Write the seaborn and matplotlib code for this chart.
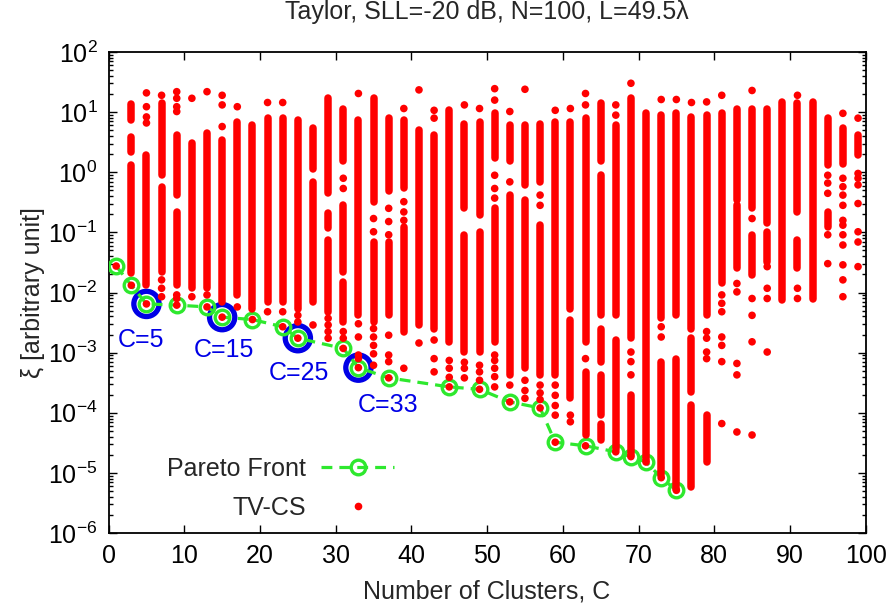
import numpy as np
import pandas as pd
import matplotlib
matplotlib.use("Agg")
import matplotlib.pyplot as plt
import seaborn as sns
from matplotlib.ticker import LogLocator, LogFormatterMathtext, MultipleLocator, NullFormatter
from matplotlib.lines import Line2D

# ---------------- data (exponents are log10 of xi) ----------------
title = "Taylor, SLL=-20 dB, N=100, L=49.5λ"
x_label = "Number of Clusters, C"
y_label = "ξ [arbitrary unit]"

pareto_c = [1, 3, 5, 9, 13, 15, 19, 23, 25, 31, 33, 37, 45, 49, 53, 57, 59, 63, 67, 69, 71, 73, 75]
pareto_exp = [-1.56, -1.88, -2.19, -2.21, -2.24, -2.41, -2.45, -2.57, -2.76, -2.93, -3.25, -3.42,
              -3.57, -3.61, -3.82, -3.92, -4.49, -4.55, -4.65, -4.73, -4.82, -5.08, -5.29]
highlight_c = [5, 15, 25, 33]

# dense runs of TV-CS solutions: (C, top exponent, bottom exponent)
tvcs_runs = [
    (3, 1.13, 0.87), (3, 0.59, 0.34), (3, 0.12, -1.68),
    (5, 0.29, -1.88),
    (7, 1.15, -0.05), (7, -0.24, -1.66),
    (9, 0.62, -0.38), (9, -0.66, -1.88),
    (11, 0.48, -1.93),
    (13, 0.65, -1.93),
    (15, 0.54, -2.15),
    (17, 0.84, -2.04),
    (19, 0.79, -2.27),
    (21, 0.90, -2.15),
    (23, 0.90, -2.15),
    (25, 0.87, -2.27),
    (27, 0.73, 0.06), (27, -0.16, -2.15),
    (29, 1.23, -0.35), (29, -0.68, -0.93), (29, -1.13, -2.32),
    (31, 1.06, 0.18), (31, -0.55, -1.66), (31, -1.82, -2.49),
    (33, 0.87, -2.38),
    (35, 1.23, -0.49), (35, -1.16, -2.49),
    (37, 0.90, -0.32), (37, -1.16, -2.38),
    (39, 0.87, -0.27), (39, -0.91, -2.65),
    (41, 0.70, -2.54),
    (43, 0.62, -2.60),
    (45, 1.03, -2.82),
    (47, 0.81, -0.60), (47, -1.04, -2.99),
    (49, 0.84, -0.71), (49, -0.99, -2.99),
    (51, 0.98, 0.23), (51, -0.60, -2.82),
    (53, 0.79, 0.18), (53, -0.38, -3.37),
    (55, 0.79, -0.21), (55, -0.46, -3.26),
    (57, 0.81, -0.16), (57, -0.88, -3.37),
    (59, 0.84, -3.37),
    (61, 0.84, -2.27), (61, -2.46, -3.76),
    (63, 0.90, -2.82), (63, -3.32, -4.37),
    (65, 1.15, 0.18), (65, -0.05, -2.38), (65, -2.60, -3.15), (65, -3.37, -4.04), (65, -4.18, -4.46),
    (67, 0.79, -2.38), (67, -2.79, -4.60),
    (69, 1.23, -2.76), (69, -3.71, -4.70),
    (71, 0.98, -4.78),
    (73, 0.95, -2.43), (73, -3.15, -5.04),
    (75, 0.98, -2.38), (75, -3.10, -5.26),
    (77, 0.92, -2.60), (77, -2.76, -3.65), (77, -3.87, -5.23),
    (79, 0.95, -2.38), (79, -4.04, -4.82),
    (81, 0.98, -1.85),
    (83, 1.06, -0.46), (83, -0.55, -1.60),
    (85, 1.06, -0.60), (85, -1.04, -1.71),
    (87, 1.06, -0.85), (87, -0.99, -1.49),
    (89, 1.17, -2.13),
    (91, 1.15, -0.66), (91, -1.13, -1.60),
    (93, 1.17, -2.10),
    (95, 0.90, 0.12), (95, -0.66, -0.91),
    (97, 0.73, 0.13),
    (99, 0.62, 0.29),
]

# isolated TV-CS solutions: (C, exponent)
tvcs_points = [
    (5, 1.32), (5, 1.09), (5, 0.92), (5, 0.82),
    (7, 1.28), (7, -1.79), (7, -1.93), (7, -2.07),
    (9, 1.34), (9, 1.23), (9, 1.09), (9, 1.01), (9, -2.04), (9, -2.10),
    (11, 1.23), (11, -2.07),
    (13, 1.34), (13, -2.04),
    (15, 1.28), (15, 1.12), (15, 0.76),
    (17, 1.09), (17, -2.24),
    (21, 1.16), (21, -2.32),
    (23, 1.16), (23, -2.32),
    (25, -2.38), (25, -2.49),
    (27, -2.54),
    (29, -2.43), (29, -2.54), (29, -2.65), (29, -2.76),
    (31, -0.10), (31, -0.27), (31, -2.65), (31, -2.76),
    (33, 1.31), (33, -2.52), (33, -2.74), (33, -3.04), (33, -3.10),
    (35, -0.77), (35, -0.99), (35, -2.60), (35, -2.74), (35, -2.88), (35, -3.02), (35, -3.21),
    (37, -0.60), (37, -0.82), (37, -1.04), (37, -2.71), (37, -3.04), (37, -3.15),
    (39, 1.06), (39, -0.49), (39, -0.66), (39, -0.80), (39, -3.26),
    (41, 1.37), (41, -2.84),
    (43, 1.03), (43, 0.90), (43, -2.79), (43, -3.10), (43, -3.32),
    (45, -3.13), (45, -3.26), (45, -3.41),
    (47, 1.12), (47, -3.16), (47, -3.26), (47, -3.42),
    (49, 1.06), (49, -3.21), (49, -3.32), (49, -3.46),
    (51, 1.39), (51, 1.20), (51, -0.05), (51, -0.27), (51, -0.43),
    (51, -3.04), (51, -3.13), (51, -3.26), (51, -3.40), (51, -3.57),
    (53, 1.01), (53, -0.16), (53, -3.54),
    (55, 1.38), (55, -3.46), (55, -3.63), (55, -3.76),
    (57, -0.38), (57, -0.55), (57, -3.54), (57, -3.67), (57, -3.78),
    (59, 1.03), (59, -3.54), (59, -3.71), (59, -3.88), (59, -4.04),
    (61, 1.06), (61, -4.04), (61, -4.15),
    (63, 1.31), (63, 1.12), (63, -3.10),
    (67, 1.12), (67, 0.95),
    (69, 1.48), (69, -2.99), (69, -3.15), (69, -3.37),
    (73, 1.21), (73, -2.57), (73, -2.74),
    (75, 1.21),
    (77, 1.16),
    (79, 1.17), (79, -2.65), (79, -2.76), (79, -2.99), (79, -3.10),
    (81, 1.28), (81, -2.04), (81, -2.18), (81, -2.32), (81, -2.74), (81, -2.88), (81, -3.15), (81, -4.18),
    (83, -1.85), (83, -1.99), (83, -3.18), (83, -3.37), (83, -4.32),
    (85, 1.36), (85, -0.77), (85, -2.10), (85, -2.38), (85, -2.82), (85, -4.37),
    (87, -1.57), (87, -1.93), (87, -2.10), (87, -2.99),
    (91, 1.28), (91, -1.93), (91, -2.10),
    (95, -0.05), (95, -0.18), (95, -0.35), (95, -1.04), (95, -1.52),
    (97, 0.98), (97, -0.10), (97, -0.24), (97, -0.38), (97, -0.55), (97, -0.80),
    (97, -0.88), (97, -1.04), (97, -1.21), (97, -1.54), (97, -1.79), (97, -2.07),
    (99, 0.90), (99, -0.02), (99, -0.10), (99, -0.21), (99, -0.52), (99, -0.99), (99, -1.16), (99, -1.57),
]

# ---------------- styling ----------------
RED = "#ff0000"
GREEN = "#2ee82e"
BLUE = "#0000e6"

sns.set_style("ticks")
plt.rcParams["font.family"] = ["Liberation Sans", "DejaVu Sans"]
plt.rcParams["mathtext.default"] = "regular"
FS = 18

runs = pd.DataFrame(tvcs_runs, columns=["C", "top", "bot"])
pts = pd.DataFrame(tvcs_points, columns=["C", "exp"])
pareto = pd.DataFrame({"C": pareto_c, "exp": pareto_exp})
pareto["xi"] = 10.0 ** pareto["exp"]
all_pts = pd.concat([pts, pareto[["C", "exp"]]], ignore_index=True)
all_pts["xi"] = 10.0 ** all_pts["exp"]
hl = pareto[pareto["C"].isin(highlight_c)]

fig = plt.figure(figsize=(8.91, 6.14), dpi=100)
ax = fig.add_axes([108.6 / 891, 1 - 533 / 614, 757 / 891, 481 / 614])
ax.set_yscale("log")

# blue highlighted solutions
sns.scatterplot(data=hl, x="C", y="xi", ax=ax, s=330, facecolor="none",
                edgecolor=BLUE, linewidth=3.8, legend=False, zorder=2)

# Pareto front
sns.lineplot(data=pareto, x="C", y="xi", ax=ax, color=GREEN, linewidth=2.3,
             linestyle=(0, (3.4, 2.2)), marker="o", markersize=10.5,
             markerfacecolor="none", markeredgecolor=GREEN, markeredgewidth=2.4,
             sort=False, estimator=None, legend=False, zorder=3)

# TV-CS dense runs
ax.vlines(runs["C"], 10.0 ** runs["bot"], 10.0 ** runs["top"], colors=RED,
          linewidth=5.4, capstyle="round", zorder=4)
# TV-CS isolated points
sns.scatterplot(data=all_pts, x="C", y="xi", ax=ax, s=30, color=RED,
                edgecolor="none", linewidth=0, legend=False, zorder=5)

# annotations
label_offsets = {5: (-4, -26), 15: (1, -24), 25: (1, -25), 33: (21, -27)}
for c, v in zip(hl["C"], hl["xi"]):
    dx, dy = label_offsets[c]
    ax.annotate(f"C={c}", (c, v), xytext=(dx, dy), textcoords="offset points",
                ha="center", va="center", color=BLUE, fontsize=FS)

ax.set_xlim(0, 100)
ax.set_ylim(1e-6, 1e2)
ax.xaxis.set_major_locator(MultipleLocator(10))
ax.yaxis.set_major_locator(LogLocator(base=10, numticks=20))
ax.yaxis.set_minor_locator(LogLocator(base=10, subs=np.arange(2, 10), numticks=20))
ax.yaxis.set_major_formatter(LogFormatterMathtext())
ax.yaxis.set_minor_formatter(NullFormatter())
ax.tick_params(which="both", direction="in", top=True, right=True, width=1.0, colors="black")
ax.tick_params(which="major", length=6)
ax.tick_params(which="minor", length=3)
ax.tick_params(axis="x", which="major", labelsize=FS, pad=8)
ax.tick_params(axis="y", which="major", labelsize=FS, pad=8)
for sp in ax.spines.values():
    sp.set_linewidth(1.3)
    sp.set_color("black")

ax.set_xlabel(x_label, fontsize=FS, labelpad=8)
ax.set_ylabel(y_label, fontsize=FS, labelpad=2)
ax.set_title(title, fontsize=FS, pad=24)

handles = [
    Line2D([], [], color=GREEN, linewidth=2.3, linestyle=(0, (3.4, 2.2)), marker="o",
           markersize=10.5, markerfacecolor="none", markeredgecolor=GREEN, markeredgewidth=2.4),
    Line2D([], [], linestyle="none", marker="o", markersize=5.5, color=RED, markeredgewidth=0),
]
ax.legend(handles, ["Pareto Front", "TV-CS"], markerfirst=False, frameon=False,
          fontsize=FS, loc="upper right", bbox_to_anchor=(0.39, 0.179),
          handlelength=2.9, handletextpad=0.6, labelspacing=0.6, borderaxespad=0)

fig.savefig("out.png", dpi=100)
